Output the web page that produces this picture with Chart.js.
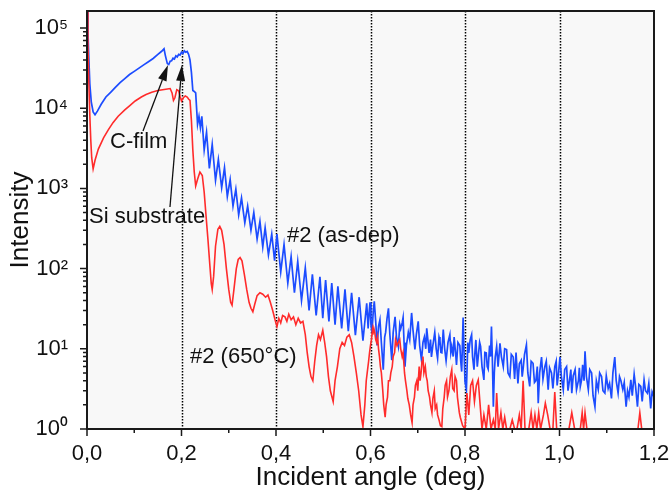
<!DOCTYPE html>
<html>
<head>
<meta charset="utf-8">
<script src="https://cdn.jsdelivr.net/npm/chart.js@4.4.1/dist/chart.umd.min.js"></script>
<style>
html,body{margin:0;padding:0;background:#ffffff;}
#wrap{width:671px;height:497px;}
</style>
</head>
<body>
<div id="wrap"><canvas id="c" width="671" height="497"></canvas></div>
<script>
// ---- data ----
const blueAngle = [
 0.000,0.002,0.004,0.006,0.009,0.013,0.017,0.022,0.030,0.040,
 0.050,0.060,0.070,0.080,0.090,0.100,0.110,0.120,0.130,0.140,
 0.150,0.158,0.163,0.166,0.170,0.173,0.176,0.179,0.182,0.185,
 0.188,0.191,0.194,0.197,0.200,0.203,0.206,0.209,0.212,0.215,
 0.218,0.221,0.224,0.227,0.230,0.234,0.237,0.240,0.243,0.248,
 0.253,0.259,0.265,0.272,0.278,0.285,0.291,0.297,0.303,0.309,
 0.315,0.321,0.327,0.334,0.340,0.347,0.353,0.360,0.366,0.372,
 0.377,0.384,0.391,0.397,0.402,0.410,0.417,0.425,0.432,0.439,
 0.446,0.454,0.462,0.470,0.477,0.485,0.493,0.499,0.505,0.512,
 0.518,0.525,0.531,0.539,0.546,0.553,0.560,0.568,0.576,0.584,
 0.592,0.595,0.597,0.599,0.601,0.603,0.606,0.608,0.611,0.614,
 0.617,0.620,0.623,0.627,0.630,0.632,0.635,0.638,0.641,0.645,
 0.648,0.652,0.655,0.659,0.662,0.664,0.667,0.669,0.671,0.673,
 0.676,0.680,0.683,0.687,0.690,0.694,0.697,0.701,0.704,0.708,
 0.711,0.714,0.717,0.719,0.722,0.724,0.727,0.729,0.732,0.736,
 0.739,0.742,0.745,0.747,0.749,0.751,0.754,0.757,0.760,0.764,
 0.768,0.770,0.772,0.775,0.777,0.780,0.782,0.785,0.789,0.791,
 0.793,0.796,0.798,0.800,0.803,0.806,0.808,0.811,0.814,0.816,
 0.819,0.821,0.823,0.826,0.828,0.831,0.833,0.836,0.840,0.842,
 0.845,0.847,0.849,0.852,0.854,0.856,0.858,0.860,0.862,0.864,
 0.867,0.870,0.874,0.877,0.881,0.884,0.888,0.891,0.895,0.898,
 0.902,0.905,0.908,0.912,0.915,0.919,0.921,0.923,0.926,0.930,
 0.933,0.937,0.940,0.944,0.947,0.950,0.953,0.955,0.958,0.962,
 0.965,0.969,0.972,0.976,0.979,0.983,0.986,0.990,0.993,0.995,
 0.998,1.001,1.004,1.008,1.011,1.015,1.018,1.021,1.024,1.026,
 1.029,1.033,1.036,1.040,1.042,1.044,1.047,1.049,1.052,1.054,
 1.057,1.061,1.064,1.068,1.071,1.075,1.078,1.082,1.085,1.089,
 1.092,1.096,1.099,1.103,1.106,1.110,1.113,1.117,1.120,1.124,
 1.127,1.130,1.134,1.137,1.141,1.144,1.147,1.151,1.154,1.158,
 1.161,1.165,1.168,1.172,1.175,1.179,1.182,1.186,1.189,1.193,
 1.196,1.200
];
const blueIntensity = [
 160000,90000,40000,20000,12000,9000,8300,9200,11200,13800,
 15800,18200,20900,23400,26300,28800,31600,34700,38000,41700,
 46800,51300,55000,45000,36000,35000,38500,39000,42000,41000,
 45000,43500,47000,46000,50000,48000,52000,50000,51000,47000,
 40000,28000,16600,16200,15500,6300,7900,5750,7900,3020,
 5010,1780,3550,1260,2290,1020,1820,794,1290,603,
 977,468,759,372,603,302,501,234,389,186,
 324,148,269,126,269,91,200,66,141,50,
 123,40,102,30,85,26,79,24,72,22,
 66,20,60,18,55,16.6,50,14.8,44,12.6,
 37,18,28,38,20,16,30,39,22,11,
 19,23,12,5.5,14,16,24,32,15,7.2,
 16,25,14,10.7,20,17.8,21,24.5,12,6.0,
 11,16,13,28,17,9.8,15,22,11,7.2,
 12,14,10,18,12,8.9,13,7.9,11,16,
 10,7.6,14,12.6,9,8.9,17.4,10,7.1,12,
 15,9,10.7,8,14,9,6.3,12,11,7,
 5.2,24.5,9,3.9,3.1,12,8.9,13,15,8,
 5.5,9,12.9,6,7.9,12,10.7,6,4.1,9,
 8.9,6,5.6,11,8,19,7,1.9,5,7.9,
 10.7,6,11.7,8,6.0,10,9.8,5,4.5,8.5,
 7.9,4.2,9,3.7,6.5,7.2,4.5,5.6,8.5,11.2,
 5,3.4,7,6.6,3.8,4.0,6,2.1,5,7.9,
 4.2,6.0,7,3.1,5.8,5.0,3.2,6.0,7,3.5,
 5,7.9,4.5,3.1,5.5,6.0,3,4.0,5.5,2.8,
 4.6,5.5,3.1,4.0,5.8,3.4,4.2,6.3,4,9.3,
 4.5,3.1,5.5,5.0,2.6,1.9,4,3.1,5,4.5,
 3,2.8,4.6,3.2,3.7,2.4,5.0,7.9,4,2.8,
 4.5,4.0,3.1,3.8,1.9,3,2.5,4.1,2.6,4.8,
 3.4,1.9,3.6,3.4,2.2,4.1,3,2.8,3.7,1.8,
 2.9,2.5
];
const redAngle = [
 0.000,0.002,0.004,0.006,0.008,0.010,0.013,0.017,0.024,0.035,
 0.045,0.055,0.066,0.080,0.090,0.102,0.115,0.125,0.137,0.150,
 0.160,0.170,0.176,0.180,0.183,0.186,0.190,0.194,0.197,0.200,
 0.204,0.208,0.212,0.215,0.218,0.221,0.224,0.227,0.230,0.234,
 0.239,0.244,0.248,0.252,0.256,0.260,0.263,0.265,0.268,0.272,
 0.277,0.281,0.285,0.290,0.295,0.300,0.304,0.307,0.311,0.316,
 0.320,0.324,0.328,0.333,0.338,0.343,0.347,0.351,0.355,0.360,
 0.366,0.372,0.378,0.383,0.388,0.393,0.398,0.402,0.406,0.410,
 0.414,0.419,0.423,0.427,0.432,0.437,0.442,0.447,0.452,0.457,
 0.462,0.466,0.470,0.474,0.478,0.482,0.486,0.490,0.494,0.499,
 0.503,0.507,0.511,0.515,0.521,0.525,0.530,0.535,0.540,0.545,
 0.550,0.555,0.560,0.565,0.570,0.575,0.580,0.584,0.588,0.591,
 0.593,0.596,0.598,0.600,0.602,0.604,0.605,0.607,0.609,0.611,
 0.613,0.615,0.617,0.619,0.621,0.623,0.626,0.628,0.631,0.633,
 0.636,0.638,0.641,0.643,0.646,0.648,0.651,0.653,0.656,0.659,
 0.662,0.664,0.667,0.669,0.672,0.674,0.677,0.679,0.682,0.685,
 0.688,0.690,0.693,0.695,0.698,0.700,0.703,0.705,0.707,0.709,
 0.711,0.713,0.716,0.718,0.720,0.722,0.725,0.727,0.730,0.732,
 0.735,0.737,0.740,0.742,0.745,0.748,0.751,0.753,0.756,0.758,
 0.761,0.763,0.766,0.769,0.772,0.774,0.777,0.779,0.782,0.784,
 0.786,0.788,0.790,0.795,0.800,0.804,0.808,0.812,0.816,0.820,
 0.824,0.828,0.832,0.836,0.840,0.845,0.850,0.855,0.860,0.864,
 0.867,0.871,0.876,0.880,0.884,0.888,0.895,0.900,0.905,0.910,
 0.915,0.919,0.923,0.927,0.935,0.940,0.944,0.948,0.952,0.956,
 0.960,0.966,0.970,0.975,0.980,0.986,0.990,0.994,1.020,1.026,
 1.032,1.044,1.048,1.051,1.054,1.058,1.166,1.170,1.174,1.200
];
const redIntensity = [
 160000,60000,20000,8000,4000,2400,1750,2240,3090,4270,
 5370,6610,7940,9550,10700,12300,13800,14800,15800,16600,
 17000,17400,17600,15500,12500,13500,17000,16500,14000,12300,
 13500,14200,13800,13000,12500,7000,3000,1600,1070,1300,
 1600,1450,900,450,230,110,65,55,80,190,
 310,336,300,200,100,55,38,35,55,100,
 130,137,125,85,55,38,32,29,36,46,
 50,48,44,47,38,30,23,19,24,21,
 26,25,22,27,23,25,20,24,21,22,
 15,9,6,4.5,4,7,11,15,13,17,
 12,8,4.5,3,2.2,4,6,10,12,11,
 14,15,12,8,5,3,1.5,1.07,2,4,
 5,7,9,11,13,17,15,18,16,13,
 12,14,10,8,6,5,3,2,1.4,2,
 2.5,4,4,5,6,8,9,13,11,12,
 13,10,8,9,5,4,3,2.4,2,1.5,
 1.2,2,2.5,3.5,4,3,6,4,5,7,
 8,5,6,4.5,4,3,2.5,2,1.6,2.4,
 3,1.8,2,1.5,1.3,1.1,1.07,1.8,2.5,3.5,
 4,2.5,3,4.5,5.5,3.2,3,4.5,4,2.5,
 2,1.6,1.4,1.1,1,2.8,1.5,3.5,4,2.2,
 3.5,4.1,2,1,1.5,1,2,1,1.3,1,
 2.8,1,1.6,1,1.4,1,1,1.3,1,1,
 1.5,1,4,1,1,1.6,1,1.5,1,1.6,
 1,1.5,2.1,1.5,1,1,2.9,1,1,1.6,
 1,1,1.6,1,1.6,1,1,1.6,1,1
];
const seriesNames = ['#2 (650°C)', '#2 (as-dep)'];
const xTickValues = [0, 0.2, 0.4, 0.6, 0.8, 1.0, 1.2];
const yTickValues = [1, 10, 100, 1000, 10000, 100000];
const yTickLabels = ['10⁰', '10¹', '10²', '10³', '10⁴', '10⁵'];
const dottedAngles = [0.2, 0.4, 0.6, 0.8, 1.0];
const noteTexts = ['C-film', 'Si substrate', '#2 (as-dep)', '#2 (650°C)'];
const noteAngles = [0.0487, 0.0042, 0.4233, 0.218];
const noteIntensities = [3190, 370, 215, 6.65];
const arrowFromAngle = [0.1185, 0.1756];
const arrowFromIntensity = [5200, 586];
const arrowToAngle = [0.1714, 0.201];
const arrowToIntensity = [34600, 34600];

// ---- build ----
function pairs(xs, ys) {
  const n = Math.min(xs.length, ys.length);
  const out = [];
  for (let i = 0; i < n; i++) out.push({x: xs[i], y: ys[i]});
  return out;
}
const FONT = '"Liberation Sans", Arial, Helvetica, sans-serif';
Chart.defaults.font.family = FONT;
Chart.defaults.color = '#111111';

function noPad(s) {
  s.paddingTop = 0; s.paddingBottom = 0; s.paddingLeft = 0; s.paddingRight = 0;
}

const decor = {
  id: 'decor',
  beforeDraw(chart) {
    const {ctx, chartArea: a} = chart;
    ctx.save();
    ctx.fillStyle = '#f8f8f8';
    ctx.fillRect(a.left, a.top, a.right - a.left, a.bottom - a.top);
    ctx.restore();
  },
  beforeDatasetsDraw(chart) {
    const {ctx, chartArea: a, scales: {x}} = chart;
    ctx.save();
    ctx.strokeStyle = '#000000';
    ctx.lineWidth = 1.5;
    ctx.setLineDash([1.5, 1.5]);
    dottedAngles.forEach(v => {
      const px = Math.round(x.getPixelForValue(v)) + 0.5;
      ctx.beginPath();
      ctx.moveTo(px, a.top);
      ctx.lineTo(px, a.bottom);
      ctx.stroke();
    });
    ctx.restore();
  },
  afterDatasetsDraw(chart) {
    const {ctx, chartArea: a, scales: {x, y}} = chart;
    ctx.save();
    ctx.strokeStyle = '#1a1a1a';
    ctx.lineWidth = 2;
    ctx.strokeRect(a.left, a.top, a.right - a.left, a.bottom - a.top);
    ctx.lineWidth = 1.5;
    ctx.beginPath();
    for (let i = 0; i < xTickValues.length; i++) {
      const px = x.getPixelForValue(xTickValues[i]);
      ctx.moveTo(px, a.bottom); ctx.lineTo(px, a.bottom + 7);
      if (i < xTickValues.length - 1) {
        const pm = x.getPixelForValue((xTickValues[i] + xTickValues[i + 1]) / 2);
        ctx.moveTo(pm, a.bottom); ctx.lineTo(pm, a.bottom + 4);
      }
    }
    for (let d = 0; d < yTickValues.length; d++) {
      const base = yTickValues[d];
      const py = y.getPixelForValue(base);
      ctx.moveTo(a.left, py); ctx.lineTo(a.left - 7, py);
      for (let k = 2; k <= 9; k++) {
        const v = base * k;
        if (v > y.max) break;
        const pk = y.getPixelForValue(v);
        ctx.moveTo(a.left, pk); ctx.lineTo(a.left - 4, pk);
      }
    }
    ctx.stroke();
    ctx.strokeStyle = '#111111';
    ctx.fillStyle = '#111111';
    ctx.lineWidth = 1.3;
    for (let i = 0; i < arrowFromAngle.length; i++) {
      const x0 = x.getPixelForValue(arrowFromAngle[i]);
      const y0 = y.getPixelForValue(arrowFromIntensity[i]);
      const x1 = x.getPixelForValue(arrowToAngle[i]);
      const y1 = y.getPixelForValue(arrowToIntensity[i]);
      const ang = Math.atan2(y1 - y0, x1 - x0);
      const hl = 16, hw = 4.5;
      const bx = x1 - hl * Math.cos(ang), by = y1 - hl * Math.sin(ang);
      ctx.beginPath(); ctx.moveTo(x0, y0); ctx.lineTo(bx, by); ctx.stroke();
      ctx.beginPath();
      ctx.moveTo(x1, y1);
      ctx.lineTo(bx + hw * Math.sin(ang), by - hw * Math.cos(ang));
      ctx.lineTo(bx - hw * Math.sin(ang), by + hw * Math.cos(ang));
      ctx.closePath(); ctx.fill();
    }
    ctx.font = '22px ' + FONT;
    ctx.textAlign = 'left';
    ctx.textBaseline = 'alphabetic';
    for (let i = 0; i < noteTexts.length; i++) {
      ctx.fillText(noteTexts[i], x.getPixelForValue(noteAngles[i]), y.getPixelForValue(noteIntensities[i]));
    }
    ctx.restore();
  }
};

new Chart(document.getElementById('c'), {
  type: 'line',
  data: {
    datasets: [
      {label: seriesNames[0], data: pairs(redAngle, redIntensity), borderColor: '#ff2b2b', borderWidth: 1.6, pointRadius: 0, tension: 0},
      {label: seriesNames[1], data: pairs(blueAngle, blueIntensity), borderColor: '#1c4cff', borderWidth: 1.7, pointRadius: 0, tension: 0}
    ]
  },
  options: {
    responsive: false,
    animation: false,
    devicePixelRatio: 1,
    layout: {padding: {top: 11, right: 17, left: 0, bottom: 0}},
    plugins: {legend: {display: false}, tooltip: {enabled: false}},
    scales: {
      x: {
        type: 'linear', min: 0, max: 1.2,
        afterBuildTicks: s => { s.ticks = xTickValues.map(v => ({value: v})); },
        afterFit: s => { s.height = 68; noPad(s); },
        ticks: {autoSkip: false, maxRotation: 0, padding: 12, font: {size: 22}, color: '#111',
          callback: v => Number(v).toFixed(1).replace('.', ',')},
        grid: {display: false, drawTicks: false},
        border: {display: false},
        title: {display: true, text: 'Incident angle (deg)', font: {size: 26}, color: '#111', padding: {top: 0, bottom: 4}}
      },
      y: {
        type: 'logarithmic', min: 1, max: 163000,
        afterBuildTicks: s => { s.ticks = yTickValues.map(v => ({value: v})); },
        afterFit: s => { s.width = 87; noPad(s); },
        ticks: {autoSkip: false, padding: 19, font: {size: 22}, color: '#111',
          callback: v => yTickLabels[Math.round(Math.log10(v))]},
        grid: {display: false, drawTicks: false},
        border: {display: false},
        title: {display: true, text: 'Intensity', font: {size: 26}, color: '#111', padding: {top: 5, bottom: 0}}
      }
    }
  },
  plugins: [decor]
});
</script>
</body>
</html>
